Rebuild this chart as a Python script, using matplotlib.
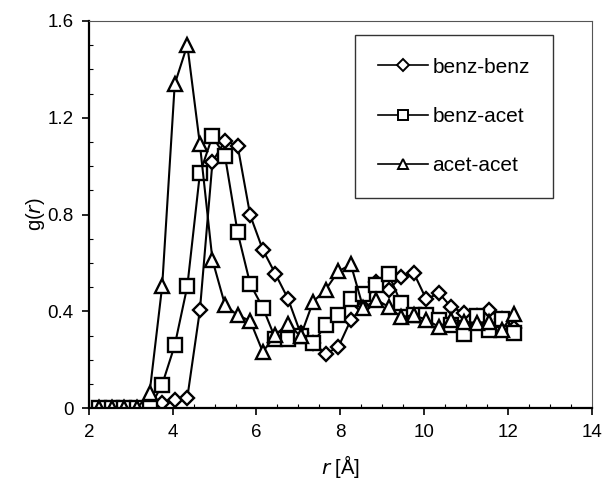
import matplotlib.pyplot as plt
from matplotlib.ticker import MultipleLocator

plt.rcParams['font.family'] = ['Liberation Sans', 'DejaVu Sans']

r = [2.25, 2.55, 2.85, 3.15, 3.45, 3.75, 4.05, 4.35, 4.65, 4.95, 5.25, 5.55,
     5.85, 6.15, 6.45, 6.75, 7.05, 7.35, 7.65, 7.95, 8.25, 8.55, 8.85, 9.15,
     9.45, 9.75, 10.05, 10.35, 10.65, 10.95, 11.25, 11.55, 11.85, 12.15]

benz_benz = [0, 0, 0, 0, 0, 0.022, 0.033, 0.044, 0.405, 1.018, 1.105, 1.084,
             0.797, 0.655, 0.555, 0.453, 0.31, 0.27, 0.226, 0.252, 0.365, 0.42,
             0.52, 0.49, 0.542, 0.559, 0.45, 0.476, 0.417, 0.394, 0.38, 0.404,
             0.37, 0.33]

benz_acet = [0, 0, 0, 0, 0, 0.098, 0.26, 0.504, 0.97, 1.124, 1.04, 0.726,
             0.513, 0.416, 0.288, 0.284, 0.3, 0.27, 0.343, 0.387, 0.45, 0.47,
             0.508, 0.554, 0.433, 0.384, 0.384, 0.366, 0.345, 0.305, 0.38, 0.325,
             0.368, 0.309]

acet_acet = [0, 0, 0, 0, 0.063, 0.504, 1.339, 1.5, 1.09, 0.612, 0.426, 0.384,
             0.361, 0.233, 0.302, 0.35, 0.297, 0.44, 0.49, 0.565, 0.594, 0.412,
             0.449, 0.419, 0.377, 0.384, 0.366, 0.336, 0.366, 0.357, 0.352, 0.357,
             0.325, 0.391]

fig = plt.figure(figsize=(6.04, 4.86), dpi=100)
ax = fig.add_axes([0.147, 0.160, 0.833, 0.797])

style = dict(color='black', lw=1.5, mfc='white', mec='black', mew=1.7)
ax.plot(r, benz_benz, marker='D', ms=7.5, label='benz-benz', **style)
ax.plot(r, benz_acet, marker='s', ms=10, label='benz-acet', **style)
ax.plot(r, acet_acet, marker='^', ms=10.5, label='acet-acet', **style)

ax.set_xlim(2, 14)
ax.set_ylim(0, 1.6)
ax.xaxis.set_major_locator(MultipleLocator(2))
ax.xaxis.set_minor_locator(MultipleLocator(0.5))
ax.yaxis.set_minor_locator(MultipleLocator(0.1))
ax.set_yticks([0, 0.4, 0.8, 1.2, 1.6])
ax.set_yticklabels(['0', '0.4', '0.8', '1.2', '1.6'])
ax.tick_params(which='major', direction='out', length=5, width=1.2, labelsize=13.5, pad=6)
ax.tick_params(which='minor', direction='in', length=3, width=0.8)
ax.tick_params(top=False, right=False, which='both')

for side in ['left', 'bottom']:
    ax.spines[side].set_linewidth(1.6)
for side in ['top', 'right']:
    ax.spines[side].set_linewidth(0.8)
    ax.spines[side].set_color('#555555')

ax.set_xlabel(r'$r$ [Å]', fontsize=14.5, labelpad=9)
ax.set_ylabel(r'g($r$)', fontsize=14.5, labelpad=0)

leg = ax.legend(loc='upper right', bbox_to_anchor=(0.922, 0.964), fontsize=15,
                frameon=True, fancybox=False, edgecolor='black',
                handlelength=2.4, labelspacing=1.45, borderpad=1.1,
                handletextpad=0.2, borderaxespad=0)
leg.get_frame().set_linewidth(1.0)
for h in leg.legend_handles:
    h.set_markersize(h.get_markersize() * 0.75)
    h.set_linewidth(1.2)
    h.set_markeredgewidth(1.4)

fig.savefig('out.png', dpi=100)
